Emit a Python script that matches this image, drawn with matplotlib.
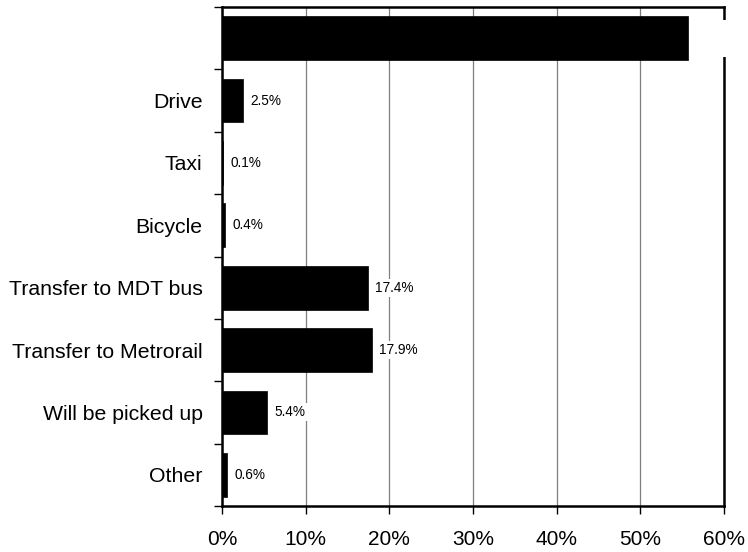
import matplotlib
matplotlib.use("Agg")
import matplotlib.pyplot as plt

plt.rcParams['font.family'] = ['Liberation Sans', 'DejaVu Sans']

categories = ["", "Drive", "Taxi", "Bicycle", "Transfer to MDT bus",
              "Transfer to Metrorail", "Will be picked up", "Other"]
values = [55.7, 2.5, 0.1, 0.4, 17.4, 17.9, 5.4, 0.6]
value_labels = ["55.7%", "2.5%", "0.1%", "0.4%", "17.4%", "17.9%", "5.4%", "0.6%"]
xticks = [0, 10, 20, 30, 40, 50, 60]
xtick_labels = ["0%", "10%", "20%", "30%", "40%", "50%", "60%"]

fig = plt.figure(figsize=(7.48, 5.52), dpi=100)
ax = fig.add_axes([222/748, 1 - 506/552, (724 - 222)/748, (506 - 7)/552])

n = len(categories)
ypos = list(range(n))
ax.barh(ypos, values, height=0.7, color='black', edgecolor='black', linewidth=0.5, zorder=3)

ax.set_ylim(n - 0.5, -0.5)
ax.set_xlim(0, 60)
ax.set_xticks(xticks)
ax.set_xticklabels(xtick_labels, fontsize=15)
ax.set_yticks(ypos)
ax.set_yticklabels(categories, fontsize=15.3)
ax.set_yticks([i + 0.5 for i in range(-1, n)], minor=True)
ax.tick_params(axis='y', which='major', length=0, pad=14)
ax.tick_params(axis='y', which='minor', length=6, width=1, direction='out')
ax.tick_params(axis='x', which='major', length=6, width=1, direction='out', pad=11)

ax.grid(axis='x', color='#7f7f7f', linewidth=0.9, zorder=0)
ax.set_axisbelow(True)
for s in ax.spines.values():
    s.set_linewidth(1.8)
    s.set_color('black')
    s.set_zorder(4)

for i, (v, lab) in enumerate(zip(values, value_labels)):
    if i == 0:
        ax.text(v + 3.0, i, lab, va='center', ha='left', fontsize=9.5, color='white',
                bbox=dict(facecolor='white', edgecolor='none', pad=9), zorder=5, clip_on=False)
    else:
        ax.text(v + 0.9, i, lab, va='center', ha='left', fontsize=9.8, color='black',
                bbox=dict(facecolor='white', edgecolor='none', pad=1.5), zorder=5)

fig.savefig("out.png", dpi=100)
